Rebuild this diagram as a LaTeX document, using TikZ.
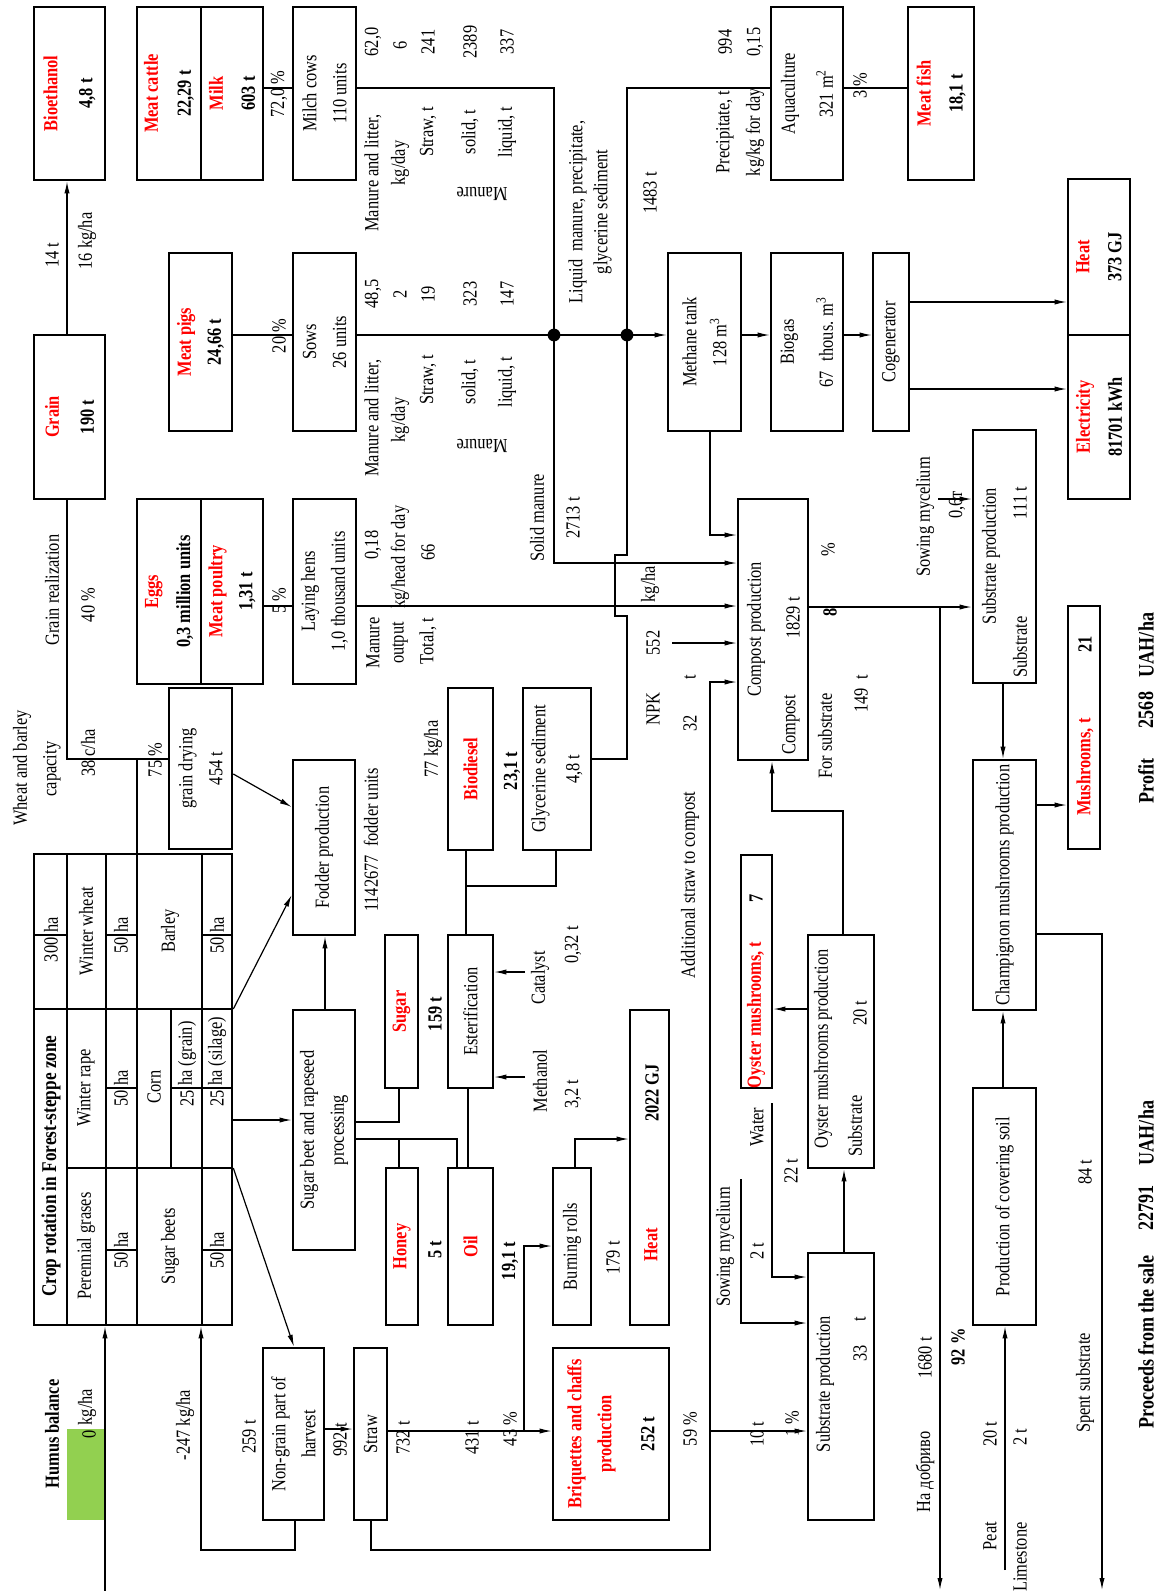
\documentclass[tikz,border=0pt]{standalone}
\usepackage{fontspec}
\setmainfont{Liberation Serif}[FakeStretch=0.82]
\usetikzlibrary{arrows.meta,calc}
\definecolor{pred}{RGB}{255,0,0}
\definecolor{hgreen}{RGB}{146,208,80}
\newcommand\redb[1]{\textcolor{pred}{\bfseries #1}}
\newcommand\mybox[7][]{%
  \pgfmathsetmacro\bxcx{(#3+#5)/2}%
  \pgfmathsetmacro\bxcy{(#4+#6)/2}%
  \pgfmathsetmacro\bxw{(#6-#4)*0.5}%
  \pgfmathsetmacro\bxh{(#5-#3)*0.5}%
  \node[box,minimum width=\bxw pt,minimum height=\bxh pt,#1] (#2) at (\bxcx,\bxcy) {#7};%
}
\tikzset{
  box/.style={draw, line width=1.3pt, rotate=90, inner sep=0pt, align=center},
  lbl/.style={rotate=90, inner sep=1pt, align=center},
  ulbl/.style={rotate=180, inner sep=1pt},
  ln/.style={line width=0.6pt},
  arr/.style={line width=0.6pt, -{Latex[length=6pt,width=2.6pt]}},
  tline/.style={line width=1.3pt},
  thinl/.style={line width=0.6pt},
  big/.style={font=\fontsize{11}{13}\selectfont\bfseries}
}
\begin{document}
\begin{tikzpicture}[x=0.5pt,y=-0.5pt,font=\fontsize{10}{15}\selectfont]
\useasboundingbox (0,0) rectangle (1157,1591);
\fill[hgreen] (67,1429) rectangle (105,1520);

% ---------- boxes ----------
\mybox{bioeth}{34}{7}{105}{180}{\redb{Bioethanol}\\[2.5pt]\textbf{4,8 t}}
\mybox{grain}{34}{335}{105}{499}{\redb{Grain}\\[2.5pt]\textbf{190 t}}
\mybox{cattle}{137}{7}{201}{180}{\redb{Meat cattle}\\[1.5pt]\textbf{22,29 t}}
\mybox{milk}{201}{7}{263}{180}{\redb{Milk}\\[1pt]\textbf{603 t}}
\mybox{meatpigs}{169}{253}{232}{431}{\redb{Meat pigs}\\\textbf{24,66 t}}
\mybox{milch}{293}{7}{356}{180}{Milch cows\\110 units}
\mybox{sows}{293}{253}{356}{431}{Sows\\26 units}
\mybox{eggs}{137}{499}{201}{684}{\redb{Eggs}\\[1pt]\textbf{0,3 million units}}
\mybox{poultry}{201}{499}{263}{684}{\redb{Meat poultry}\\\textbf{1,31 t}}
\mybox{hens}{293}{499}{356}{684}{Laying hens\\1,0 thousand units}
\mybox{drying}{169}{688}{232}{849}{grain drying\\454 t}
\mybox{fodder}{293}{760}{355}{935}{Fodder production}
\mybox{table}{34}{854}{232}{1325}{}
\mybox{beet}{293}{1010}{355}{1250}{Sugar beet and rapeseed\\processing}
\mybox{sugar}{385}{935}{418}{1088}{\redb{Sugar}}
\mybox{ester}{448}{935}{493}{1088}{Esterification}
\mybox{biodiesel}{448}{688}{493}{850}{\redb{Biodiesel}}
\mybox{glyc}{523}{688}{591}{850}{Glycerine sediment\\[2pt]4,8 t}
\mybox{honey}{386}{1168}{418}{1325}{\redb{Honey}}
\mybox{oil}{448}{1168}{493}{1325}{\redb{Oil}}
\mybox{burn}{553}{1168}{591}{1325}{Burning rolls}
\mybox{heatb}{630}{1010}{669}{1325}{}
\mybox{briq}{553}{1348}{669}{1520}{\redb{Briquettes and chaffs}\\\redb{production}\\[6.5pt]\textbf{252 t}}
\mybox{nongrain}{263}{1348}{324}{1520}{Non-grain part of\\harvest}
\mybox{straw}{354}{1348}{387}{1520}{Straw}
\mybox{methane}{668}{253}{741}{431}{Methane tank\\128 m\textsuperscript{3}}
\mybox{biogas}{771}{253}{843}{431}{Biogas\\[4.5pt]67\enspace thous. m\textsuperscript{3}}
\mybox{cogen}{873}{253}{909}{431}{Cogenerator}
\mybox{heat}{1068}{179}{1130}{335}{\redb{Heat}\\[1pt]\textbf{373 GJ}}
\mybox{elec}{1068}{335}{1130}{499}{\redb{Electricity}\\[1pt]\textbf{81701 kWh}}
\mybox{aqua}{771}{7}{843}{180}{Aquaculture\\[4pt]321 m\textsuperscript{2}}
\mybox{fish}{908}{7}{974}{180}{\redb{Meat fish}\\[1pt]\textbf{18,1 t}}
\mybox{compost}{738}{499}{808}{760}{}
\mybox{sub1}{973}{430}{1036}{683}{}
\mybox{mush}{1068}{606}{1100}{849}{}
\mybox{champ}{973}{760}{1036}{1010}{Champignon mushrooms production}
\mybox{oyster}{741}{855}{772}{1088}{}
\mybox{oprod}{808}{935}{874}{1168}{}
\mybox{sub2}{808}{1253}{874}{1520}{}
\mybox{cover}{973}{1088}{1036}{1325}{Production of covering soil}

% ---------- table inner lines ----------
\draw[tline] (67,854) -- (67,1325);
\draw[tline] (137,854) -- (137,1325);
\draw[tline] (34,1009) -- (232,1009);
\draw[tline] (67,1168) -- (232,1168);
\draw[thinl] (106,854) -- (106,1325);
\draw[thinl] (202,854) -- (202,1325);
\draw[thinl] (171,1009) -- (171,1168);
\draw[thinl] (34,935) -- (67,935) (106,935) -- (137,935) (202,935) -- (232,935);
\draw[thinl] (106,1088) -- (137,1088) (171,1088) -- (232,1088);
\draw[thinl] (106,1250) -- (137,1250) (202,1250) -- (232,1250);

% ---------- coordinates ----------
\coordinate (d1) at (554,335);
\coordinate (d2) at (627,335);
\coordinate (npk) at (672,643);
\coordinate (fert) at (940,1590);
\coordinate (spent) at (1102,1590);
\coordinate (myc1) at (938,499);
\coordinate (peat) at (1005,1570);
\coordinate (water) at (772,1103);
\coordinate (myc2) at (741,1179);
\coordinate (meth) at (525,1077);
\coordinate (cat) at (525,972);
\coordinate (humus) at (105,1591);

% ---------- connectors ----------
\draw[arr] (grain.east -| 67,0) -- (bioeth.west -| 67,0);
\draw[ln] (milk.south |- 0,88) -- (milch.north |- 0,88);
\draw[ln] (meatpigs.south |- 0,335) -- (sows.north |- 0,335);
\draw[ln] (poultry.south |- 0,606) -- (hens.north |- 0,606);
\draw[arr] (milch.south |- 0,88) -- (554,88) -- (d1) -- (554,563) -- (compost.north |- 0,563);
\draw[arr] (sows.south |- 0,335) -- (d1) -- (d2) -- (methane.north |- 0,335);
\draw[ln] (aqua.north |- 0,88) -- (627,88) -- (d2) -- (627,555) -- (615,555) -- (615,616) -- (627,616) -- (627,759) -- (glyc.south |- 0,759);
\fill (d1) circle (3.2pt);
\fill (d2) circle (3.2pt);
\draw[ln] (aqua.south |- 0,88) -- (fish.north |- 0,88);
\draw[arr] (methane.south |- 0,335) -- (biogas.north |- 0,335);
\draw[arr] (biogas.south |- 0,335) -- (cogen.north |- 0,335);
\draw[arr] (cogen.south |- 0,302) -- (heat.north |- 0,302);
\draw[arr] (cogen.south |- 0,389) -- (elec.north |- 0,389);
\draw[arr] (methane.west -| 710,0) -- (710,535) -- (compost.north |- 0,535);
\draw[arr] (hens.south |- 0,606) -- (compost.north |- 0,606);
\draw[arr] (npk) -- (compost.north |- npk);
\draw[arr] (straw.west -| 371,0) -- (371,1550) -- (710,1550) -- (710,682) -- (compost.north |- 0,682);
\draw[arr] (oprod.east -| 843,0) -- (843,811) -- (772,811) -- (compost.west -| 772,0);
\draw[arr] (compost.south |- 0,607) -- (sub1.north |- 0,607);
\draw[arr] (940,607) -- (fert);
\draw[arr] (myc1) -- (sub1.north |- myc1);
\draw[arr] (sub1.west -| 1003,0) -- (champ.east -| 1003,0);
\draw[arr] (champ.south |- 0,805) -- (mush.north |- 0,805);
\draw[arr] (champ.south |- 0,934) -- (1102,934) -- (spent);
\draw[arr] (cover.east -| 1003,0) -- (champ.west -| 1003,0);
\draw[arr] (peat) -- (cover.west -| peat);
\draw[arr] (oprod.north |- 0,1009) -- (oyster.south |- 0,1009);
\draw[arr] (sub2.east -| 844,0) -- (oprod.west -| 844,0);
\draw[arr] (water) -- (772,1277) -- (sub2.north |- 0,1277);
\draw[arr] (myc2) -- (741,1323) -- (sub2.north |- 0,1323);
\draw[arr] (710,1431) -- (sub2.north |- 0,1431);
\draw[arr] (table.south |- 0,1168) -- (nongrain.east -| 294,0);
\draw[arr] (table.south |- 0,1120) -- (beet.north |- 0,1120);
\draw[arr] (table.south |- 0,1009) -- (fodder.north |- 0,895);
\draw[arr] (drying.south |- 0,774) -- (fodder.north |- 0,807);
\draw[arr] (beet.east -| 325,0) -- (fodder.west -| 325,0);
\draw[ln] (beet.south |- 0,1122) -- (399,1122) -- (sugar.west -| 399,0);
\draw[ln] (beet.south |- 0,1139) -- (457,1139) -- (oil.east -| 457,0);
\draw[ln] (399,1139) -- (honey.east -| 399,0);
\draw[ln] (oil.east -| 468,0) -- (ester.west -| 468,0);
\draw[ln] (ester.east -| 466,0) -- (biodiesel.west -| 466,0);
\draw[ln] (466,886) -- (556,886) -- (glyc.west -| 556,0);
\draw[arr] (meth) -- (ester.south |- meth);
\draw[arr] (cat) -- (ester.south |- cat);
\draw[arr] (straw.south |- 0,1431) -- (briq.north |- 0,1431);
\draw[arr] (524,1431) -- (524,1246) -- (burn.north |- 0,1246);
\draw[arr] (burn.east -| 575,0) -- (575,1139) -- (heatb.north |- 0,1139);
\draw[arr] (nongrain.south |- 0,1429) -- (straw.north |- 0,1429);
\draw[arr] (nongrain.west -| 295,0) -- (295,1550) -- (201,1550) -- (table.west -| 201,0);
\draw[arr] (humus) -- (table.west -| humus);
\draw[ln] (table.east -| 137,0) -- (137,759) -- (67,759) -- (grain.west -| 67,0);
\draw[ln] (137,759) -- (drying.north |- 0,759);

% ---------- labels ----------
\node[lbl] (a1) at (52,255) {14 t};
\node[lbl] (a2) at (87,241) {16 kg/ha};
\node[lbl] (a3) at (279,94) {72,0 \%};
\node[lbl] (a4) at (279,336) {20 \%};
\node[lbl] (a5) at (279,601) {5 \%};
% milch table
\node[lbl] (m1) at (373,173) {Manure and litter,};
\node[lbl] (m2) at (400,163) {kg/day};
\node[lbl] (m3) at (428,132) {Straw, t};
\node[lbl] (m4) at (470,132) {solid, t};
\node[lbl] (m5) at (507,132) {liquid, t};
\node[lbl] (m6) at (373,42) {62,0};
\node[lbl] (m7) at (400,45) {6};
\node[lbl] (m8) at (428,42) {241};
\node[lbl] (m9) at (470,42) {2389};
\node[lbl] (m10) at (507,42) {337};
\node[ulbl] (m11) at (482,194) {Manure};
% sows table
\node[lbl] (s1) at (373,418) {Manure and litter,};
\node[lbl] (s2) at (400,420) {kg/day};
\node[lbl] (s3) at (428,380) {Straw, t};
\node[lbl] (s4) at (470,382) {solid, t};
\node[lbl] (s5) at (507,382) {liquid, t};
\node[lbl] (s6) at (373,294) {48,5};
\node[lbl] (s7) at (400,294) {2};
\node[lbl] (s8) at (428,294) {19};
\node[lbl] (s9) at (470,294) {323};
\node[lbl] (s10) at (507,294) {147};
\node[ulbl] (s11) at (482,446) {Manure};
% hens table
\node[lbl] (h1) at (373,643) {Manure};
\node[lbl] (h2) at (373,545) {0,18};
\node[lbl] (h3) at (400,643) {output};
\node[lbl] (h4) at (400,557) {kg/head for day};
\node[lbl] (h5) at (428,641) {Total, t};
\node[lbl] (h6) at (428,552) {66};
% manure lines
\node[lbl] (b1) at (590,212) {Liquid\ \ manure, precipitate,\\[-2.5pt]glycerine sediment};
\node[lbl] (b2) at (650,193) {1483 t};
\node[lbl] (b3) at (725,132) {Precipitate, t};
\node[lbl] (b4) at (725,42) {994};
\node[lbl] (b5) at (755,132) {kg/kg for day};
\node[lbl] (b6) at (755,42) {0,15};
\node[lbl] (b7) at (860,86) {3 \%};
\node[lbl] (b8) at (537,518) {Solid manure};
\node[lbl] (b9) at (573,518) {2713 t};
\node[lbl] (b10) at (925,517) {Sowing mycelium};
\node[lbl] (b11) at (957,505) {0,6т};
% grain
\node[lbl] (g1) at (52,590) {Grain realization};
\node[lbl] (g2) at (88,605) {40 \%};
\node[lbl] (g3) at (22,768) {Wheat and barley};
\node[lbl] (g4) at (52,769) {capacity};
\node[lbl] (g5) at (88,753) {38 c/ha};
\node[lbl] (g6) at (155,760) {75 \%};
\node[lbl] (g7) at (371,840) {1142677\ \ fodder units};
% compost inputs
\node[lbl] (c1) at (650,584) {kg/ha};
\node[lbl] (c2) at (653,643) {552};
\node[lbl] (c3) at (653,709) {NPK};
\node[lbl] (c4) at (690,723) {32};
\node[lbl] (c5) at (690,677) {t};
\node[lbl] (c6) at (690,885) {Additional straw to compost};
\node[lbl] (c7) at (756,629) {Compost production};
\node[lbl] (c8) at (793,618) {1829 t};
\node[lbl] (c9) at (791,725) {Compost};
\node[lbl] (c10) at (828,550) {\%};
\node[lbl] (c11) at (830,612) {\textbf{8}};
\node[lbl] (c12) at (825,736) {For substrate};
\node[lbl] (c13) at (861,694) {149\ \ t};
% biodiesel
\node[lbl] (e1) at (433,749) {77 kg/ha};
\node[lbl] (e2) at (512,771) {\textbf{23,1 t}};
\node[lbl] (e3) at (435,1014) {\textbf{159 t}};
\node[lbl] (e4) at (540,978) {Catalyst};
\node[lbl] (e5) at (573,945) {0,32 t};
\node[lbl] (e6) at (540,1081) {Methanol};
\node[lbl] (e7) at (573,1094) {3,2 t};
\node[lbl] (e8) at (435,1250) {\textbf{5 t}};
\node[lbl] (e9) at (510,1261) {\textbf{19,1 t}};
\node[lbl] (e10) at (613,1258) {179 t};
\node[lbl] (e11) at (651,1245) {\redb{Heat}};
\node[lbl] (e12) at (652,1093) {\textbf{2022 GJ}};
% mushrooms
\node[lbl] (f1) at (991,556) {Substrate production};
\node[lbl] (f2) at (1020,503) {111 t};
\node[lbl] (f3) at (1020,647) {Substrate};
\node[lbl] (f4) at (1085,767) {\redb{Mushrooms, t}};
\node[lbl] (f5) at (1085,644) {\textbf{21}};
\node[lbl,big] (f6) at (1146,781) {Profit};
\node[lbl,big] (f7) at (1146,710) {2568};
\node[lbl,big] (f8) at (1146,645) {UAH/ha};
\node[lbl] (f9) at (756,1015) {\redb{Oyster mushrooms, t}};
\node[lbl] (f10) at (756,898) {\textbf{7}};
\node[lbl] (f11) at (823,1049) {Oyster mushrooms production};
\node[lbl] (f12) at (860,1013) {20 t};
\node[lbl] (f13) at (855,1126) {Substrate};
\node[lbl] (f14) at (757,1127) {Water};
\node[lbl] (f15) at (791,1171) {22 t};
\node[lbl] (f16) at (725,1247) {Sowing mycelium};
\node[lbl] (f17) at (757,1251) {2 t};
\node[lbl] (f18) at (825,1384) {Substrate production};
\node[lbl] (f19) at (860,1353) {33};
\node[lbl] (f20) at (860,1319) {t};
\node[lbl] (f21) at (925,1472) {На добриво};
\node[lbl] (f22) at (925,1358) {1680 t};
\node[lbl] (f23) at (958,1347) {\textbf{92 \%}};
\node[lbl] (f24) at (990,1536) {Peat};
\node[lbl] (f25) at (1020,1557) {Limestone};
\node[lbl] (f26) at (990,1434) {20 t};
\node[lbl] (f27) at (1020,1437) {2 t};
\node[lbl] (f28) at (1085,1383) {Spent substrate};
\node[lbl] (f29) at (1085,1172) {84 t};
\node[lbl,big] (f30) at (1146,1342) {Proceeds from the sale};
\node[lbl,big] (f31) at (1146,1208) {22791};
\node[lbl,big] (f32) at (1146,1133) {UAH/ha};
% left bottom
\node[lbl] (k1) at (52,1434) {\textbf{Humus balance}};
\node[lbl] (k2) at (89,1434) {0};
\node[lbl] (k3) at (87,1407) {kg/ha};
\node[lbl] (k4) at (185,1425) {-247 kg/ha};
\node[lbl] (k5) at (249,1437) {259 t};
\node[lbl] (k6) at (340,1440) {992 t};
\node[lbl] (k7) at (403,1438) {732 t};
\node[lbl] (k8) at (472,1438) {431 t};
\node[lbl] (k9) at (510,1429) {43 \%};
\node[lbl] (k10) at (690,1429) {59 \%};
\node[lbl] (k11) at (757,1434) {10 t};
\node[lbl] (k12) at (792,1424) {1 \%};
% table texts
\node[lbl] (r1) at (51,1166) {\fontsize{10.5}{12}\selectfont\textbf{Crop rotation in Forest-steppe zone}};
\node[lbl,anchor=east] (r2) at (51,935) {300};
\node[lbl,anchor=west] (r3) at (51,935) {ha};
\node[lbl] (r4) at (86,931) {Winter wheat};
\node[lbl] (r5) at (86,1088) {Winter rape};
\node[lbl] (r6) at (86,1246) {Perennial grases};
\node[lbl,anchor=east] (r7) at (121,935) {50};
\node[lbl,anchor=west] (r8) at (121,935) {ha};
\node[lbl,anchor=east] (r9) at (121,1088) {50};
\node[lbl,anchor=west] (r10) at (121,1088) {ha};
\node[lbl,anchor=east] (r11) at (121,1250) {50};
\node[lbl,anchor=west] (r12) at (121,1250) {ha};
\node[lbl] (r13) at (170,931) {Barley};
\node[lbl,anchor=east] (r14) at (217,935) {50};
\node[lbl,anchor=west] (r15) at (217,935) {ha};
\node[lbl] (r16) at (154,1087) {Corn};
\node[lbl,anchor=east] (r17) at (187,1088) {25};
\node[lbl,anchor=west] (r18) at (187,1088) {ha (grain)};
\node[lbl,anchor=east] (r19) at (217,1088) {25};
\node[lbl,anchor=west] (r20) at (217,1088) {ha (silage)};
\node[lbl] (r21) at (170,1246) {Sugar beets};
\node[lbl,anchor=east] (r22) at (217,1250) {50};
\node[lbl,anchor=west] (r23) at (217,1250) {ha};
\end{tikzpicture}
\end{document}
